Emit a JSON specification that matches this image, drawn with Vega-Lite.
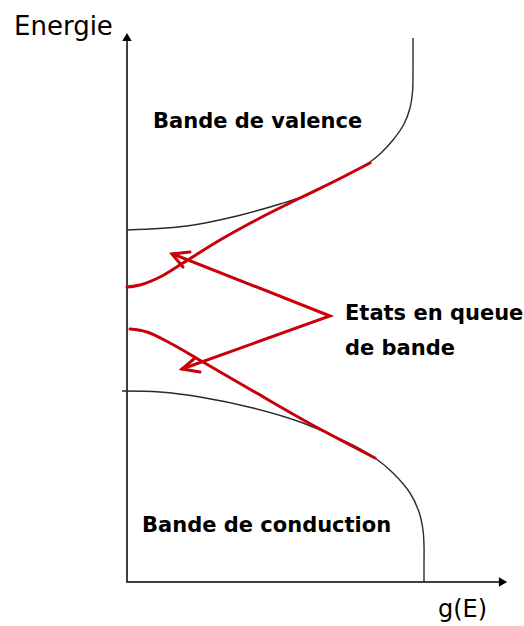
{
  "$schema": "https://vega.github.io/schema/vega-lite/v6.json",
  "width": 524,
  "height": 626,
  "autosize": "none",
  "padding": 0,
  "background": "white",
  "config": {"view": {"stroke": null}},
  "encoding": {
    "x": {"field": "g", "type": "quantitative", "scale": {"domain": [0, 524], "nice": false, "zero": false}, "axis": null},
    "y": {"field": "E", "type": "quantitative", "scale": {"domain": [0, 626], "nice": false, "zero": false}, "axis": null}
  },
  "datasets": {
    "curves": [
      {"series": "axes", "seq": 1, "g": 127, "E": 586},
      {"series": "axes", "seq": 2, "g": 127, "E": 44},
      {"series": "axes", "seq": 3, "g": 500, "E": 44},
      {"series": "vb", "seq": 1, "g": 127, "E": 396},
      {"series": "vb", "seq": 2, "g": 187, "E": 400},
      {"series": "vb", "seq": 3, "g": 237, "E": 410},
      {"series": "vb", "seq": 4, "g": 280, "E": 422},
      {"series": "vb", "seq": 5, "g": 307, "E": 431},
      {"series": "vb", "seq": 6, "g": 340, "E": 447},
      {"series": "vb", "seq": 7, "g": 370, "E": 464},
      {"series": "vb", "seq": 8, "g": 381, "E": 473},
      {"series": "vb", "seq": 9, "g": 393, "E": 486},
      {"series": "vb", "seq": 10, "g": 404, "E": 502},
      {"series": "vb", "seq": 11, "g": 410, "E": 518},
      {"series": "vb", "seq": 12, "g": 412.5, "E": 534},
      {"series": "vb", "seq": 13, "g": 413, "E": 550},
      {"series": "vb", "seq": 14, "g": 413, "E": 568},
      {"series": "vb", "seq": 15, "g": 413, "E": 588},
      {"series": "cb", "seq": 1, "g": 122, "E": 235},
      {"series": "cb", "seq": 2, "g": 160, "E": 234},
      {"series": "cb", "seq": 3, "g": 200, "E": 229},
      {"series": "cb", "seq": 4, "g": 253, "E": 218},
      {"series": "cb", "seq": 5, "g": 303, "E": 203},
      {"series": "cb", "seq": 6, "g": 353, "E": 181},
      {"series": "cb", "seq": 7, "g": 375, "E": 168},
      {"series": "cb", "seq": 8, "g": 393, "E": 153},
      {"series": "cb", "seq": 9, "g": 410, "E": 133},
      {"series": "cb", "seq": 10, "g": 419, "E": 114},
      {"series": "cb", "seq": 11, "g": 423, "E": 96},
      {"series": "cb", "seq": 12, "g": 424, "E": 80},
      {"series": "cb", "seq": 13, "g": 424, "E": 62},
      {"series": "cb", "seq": 14, "g": 424, "E": 44},
      {"series": "vr", "seq": 1, "g": 127, "E": 339},
      {"series": "vr", "seq": 2, "g": 140, "E": 341},
      {"series": "vr", "seq": 3, "g": 160, "E": 349},
      {"series": "vr", "seq": 4, "g": 183, "E": 363},
      {"series": "vr", "seq": 5, "g": 220, "E": 386},
      {"series": "vr", "seq": 6, "g": 260, "E": 408},
      {"series": "vr", "seq": 7, "g": 300, "E": 428},
      {"series": "vr", "seq": 8, "g": 335, "E": 445},
      {"series": "vr", "seq": 9, "g": 370, "E": 463},
      {"series": "cr", "seq": 1, "g": 130, "E": 297},
      {"series": "cr", "seq": 2, "g": 147, "E": 294},
      {"series": "cr", "seq": 3, "g": 170, "E": 283},
      {"series": "cr", "seq": 4, "g": 203, "E": 264},
      {"series": "cr", "seq": 5, "g": 253, "E": 235},
      {"series": "cr", "seq": 6, "g": 307, "E": 204},
      {"series": "cr", "seq": 7, "g": 375, "E": 168},
      {"series": "arrows", "seq": 1, "g": 173, "E": 372},
      {"series": "arrows", "seq": 2, "g": 330, "E": 310},
      {"series": "arrows", "seq": 3, "g": 182, "E": 257},
      {"series": "h1", "seq": 1, "g": 190, "E": 374},
      {"series": "h1", "seq": 2, "g": 172, "E": 372},
      {"series": "h1", "seq": 3, "g": 183, "E": 359},
      {"series": "h2", "seq": 1, "g": 200, "E": 254},
      {"series": "h2", "seq": 2, "g": 182, "E": 257},
      {"series": "h2", "seq": 3, "g": 195, "E": 268}
    ],
    "heads": [
      {"dir": "up", "g": 127, "E": 589},
      {"dir": "right", "g": 503, "E": 44}
    ],
    "labels": [
      {"kind": "big", "text": "Energie", "g": 14, "E": 591},
      {"kind": "axis", "text": "g(E)", "g": 438, "E": 9},
      {"kind": "band", "text": "Bande de valence", "g": 153, "E": 498},
      {"kind": "band", "text": "Etats en queue", "g": 345, "E": 306},
      {"kind": "band", "text": "de bande", "g": 345, "E": 271},
      {"kind": "band", "text": "Bande de conduction", "g": 142, "E": 94}
    ]
  },
  "layer": [
    {
      "data": {"name": "curves"},
      "transform": [{"filter": "datum.series === 'axes'"}],
      "mark": {"type": "line", "color": "#000000", "strokeWidth": 1.5},
      "encoding": {"order": {"field": "seq", "type": "quantitative"}}
    },
    {
      "data": {"name": "curves"},
      "transform": [{"filter": "datum.series === 'vb' || datum.series === 'cb'"}],
      "mark": {"type": "line", "color": "#2a2a2a", "strokeWidth": 1.4, "interpolate": "catmull-rom"},
      "encoding": {"detail": {"field": "series"}, "order": {"field": "seq", "type": "quantitative"}}
    },
    {
      "data": {"name": "curves"},
      "transform": [{"filter": "datum.series === 'vr' || datum.series === 'cr'"}],
      "mark": {"type": "line", "color": "#c8000a", "strokeWidth": 3, "strokeCap": "round", "interpolate": "catmull-rom"},
      "encoding": {"detail": {"field": "series"}, "order": {"field": "seq", "type": "quantitative"}}
    },
    {
      "data": {"name": "curves"},
      "transform": [{"filter": "datum.series === 'arrows' || datum.series === 'h1' || datum.series === 'h2'"}],
      "mark": {"type": "line", "color": "#c8000a", "strokeWidth": 3, "strokeCap": "round", "strokeJoin": "miter"},
      "encoding": {"detail": {"field": "series"}, "order": {"field": "seq", "type": "quantitative"}}
    },
    {
      "data": {"name": "heads"},
      "mark": {"type": "point", "filled": true, "color": "#000000", "opacity": 1, "size": 90},
      "encoding": {
        "shape": {"field": "dir", "type": "nominal", "legend": null,
          "scale": {"domain": ["up", "right"], "range": ["triangle-up", "triangle-right"]}}
      }
    },
    {
      "data": {"name": "labels"},
      "transform": [{"filter": "datum.kind === 'big'"}],
      "mark": {"type": "text", "align": "left", "baseline": "alphabetic", "font": "DejaVu Sans", "fontSize": 26, "color": "#000000"},
      "encoding": {"text": {"field": "text"}}
    },
    {
      "data": {"name": "labels"},
      "transform": [{"filter": "datum.kind === 'axis'"}],
      "mark": {"type": "text", "align": "left", "baseline": "alphabetic", "font": "DejaVu Sans", "fontSize": 24, "color": "#000000"},
      "encoding": {"text": {"field": "text"}}
    },
    {
      "data": {"name": "labels"},
      "transform": [{"filter": "datum.kind === 'band'"}],
      "mark": {"type": "text", "align": "left", "baseline": "alphabetic", "font": "DejaVu Sans", "fontSize": 21, "fontWeight": "bold", "color": "#000000"},
      "encoding": {"text": {"field": "text"}}
    }
  ]
}
